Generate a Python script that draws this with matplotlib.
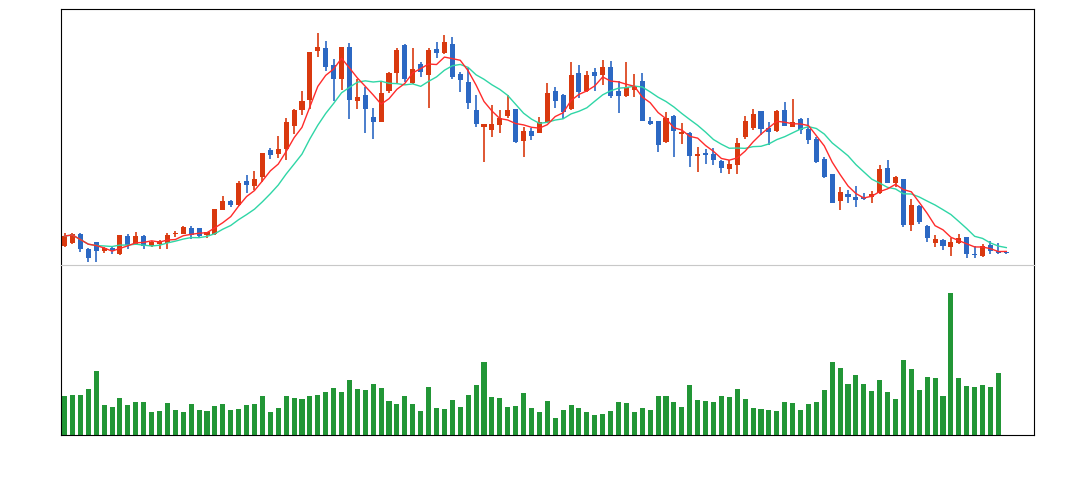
import matplotlib.pyplot as plt
import numpy as np
import pandas as pd

# daily candles
opens = [5.40, 5.73, 6.60, 5.07, 5.80, 4.90, 5.20, 4.60, 6.40, 5.60,
         6.40, 5.40, 5.60, 5.70, 6.57, 6.60, 7.20, 7.20, 6.50, 6.60,
         9.03, 9.90, 9.53, 11.93, 11.43, 12.27, 15.00, 14.63, 15.13, 17.43,
         19.03, 20.03, 24.93, 25.20, 23.50, 22.13, 25.30, 19.93, 20.50, 18.30,
         17.83, 20.90, 22.73, 25.53, 21.73, 23.60, 22.50, 25.10, 24.73, 25.60,
         22.60, 21.80, 19.00, 17.33, 17.00, 17.50, 18.40, 19.10, 15.93, 16.90,
         16.73, 17.83, 20.90, 20.50, 19.10, 22.70, 20.93, 22.80, 22.50, 23.30,
         20.90, 20.43, 21.00, 21.90, 17.90, 17.90, 15.77, 18.40, 16.63, 16.70,
         14.43, 14.70, 14.60, 13.90, 13.13, 13.53, 16.30, 17.23, 18.90, 17.20,
         16.93, 19.00, 17.33, 18.10, 17.10, 16.10, 14.10, 12.60, 9.93, 10.63,
         10.30, 10.30, 10.30, 10.73, 13.17, 11.73, 12.10, 7.50, 9.40, 7.40,
         5.73, 6.00, 5.33, 5.70, 6.30, 4.63, 4.43, 5.50, 4.90, 4.80]
closes = [6.40, 6.60, 5.13, 4.20, 4.90, 5.20, 5.00, 6.50, 5.50, 6.40,
          5.40, 5.80, 5.87, 6.50, 6.67, 7.30, 6.50, 6.40, 6.80, 9.10,
          9.87, 9.53, 11.70, 11.53, 12.10, 14.70, 14.53, 15.10, 17.80, 19.00,
          19.90, 24.80, 25.30, 23.33, 22.13, 25.30, 19.97, 20.30, 19.13, 17.83,
          20.70, 22.70, 25.00, 22.07, 23.10, 22.83, 25.00, 24.73, 25.80, 22.33,
          22.00, 19.73, 17.60, 17.60, 17.60, 18.20, 19.00, 15.83, 16.93, 16.40,
          17.77, 20.73, 19.90, 18.83, 22.50, 20.83, 22.50, 22.40, 23.30, 20.43,
          20.43, 21.30, 21.40, 17.93, 17.60, 15.50, 18.20, 16.90, 16.80, 14.43,
          14.60, 14.50, 14.00, 13.23, 13.60, 15.70, 17.90, 18.60, 17.13, 16.83,
          18.90, 17.43, 17.83, 17.03, 16.03, 13.83, 12.33, 9.73, 10.80, 10.33,
          10.03, 10.13, 10.60, 13.10, 11.73, 12.27, 7.50, 9.50, 7.83, 6.23,
          6.10, 5.43, 5.77, 6.17, 4.63, 4.53, 5.40, 4.93, 4.73, 4.70]
highs = [6.67, 6.73, 6.73, 5.20, 5.80, 5.33, 5.43, 6.50, 6.60, 6.80,
         6.50, 5.90, 6.00, 6.67, 6.90, 7.40, 7.40, 7.25, 6.80, 9.10,
         10.37, 10.03, 11.87, 12.53, 12.87, 14.70, 15.20, 16.37, 18.20, 19.10,
         20.87, 24.80, 26.70, 25.87, 24.07, 25.30, 25.70, 22.10, 21.33, 19.20,
         21.87, 22.83, 25.17, 25.60, 25.17, 23.83, 25.17, 25.80, 26.50, 26.30,
         22.83, 23.17, 20.50, 17.60, 19.50, 19.00, 20.50, 19.10, 17.27, 17.23,
         18.33, 21.67, 21.33, 20.57, 23.77, 23.50, 22.90, 23.17, 24.00, 23.90,
         21.90, 23.77, 22.57, 22.67, 18.33, 17.90, 18.80, 18.50, 17.73, 16.77,
         15.33, 15.10, 15.17, 14.00, 14.00, 16.23, 18.40, 19.10, 18.90, 17.80,
         19.00, 19.80, 20.10, 18.20, 18.20, 16.33, 14.30, 12.60, 11.30, 11.00,
         11.40, 10.70, 10.90, 13.50, 13.97, 12.43, 12.10, 10.10, 9.50, 7.50,
         6.50, 6.10, 6.17, 6.57, 6.30, 5.40, 5.63, 5.90, 5.70, 4.87]
lows = [5.27, 5.60, 4.83, 3.83, 3.77, 4.70, 4.63, 4.50, 5.07, 5.50,
        5.07, 5.30, 5.10, 5.10, 6.30, 6.60, 6.10, 6.35, 6.20, 6.50,
        9.03, 9.27, 9.43, 10.70, 10.97, 11.80, 14.10, 14.20, 13.97, 16.60,
        18.47, 19.13, 24.27, 22.87, 19.87, 20.97, 18.10, 19.10, 16.67, 16.10,
        17.80, 20.67, 21.67, 21.83, 21.60, 22.33, 19.17, 24.17, 24.60, 22.10,
        20.83, 19.07, 17.33, 13.83, 16.33, 16.67, 18.17, 15.67, 14.33, 16.00,
        16.67, 17.73, 19.17, 18.07, 19.00, 20.17, 20.83, 20.90, 21.50, 20.17,
        18.67, 20.33, 20.33, 17.90, 17.50, 14.77, 15.67, 14.27, 15.57, 13.27,
        12.77, 13.60, 13.50, 12.67, 12.57, 12.57, 16.10, 17.00, 16.50, 15.50,
        16.83, 17.40, 17.30, 16.63, 15.60, 13.73, 12.23, 9.70, 9.03, 9.73,
        9.33, 10.00, 9.73, 10.63, 11.70, 11.30, 7.27, 6.87, 7.60, 5.77,
        5.33, 5.00, 4.43, 5.57, 4.17, 4.17, 4.30, 4.57, 4.63, 4.57]
# volume (last candle has no volume bar)
volumes = [39, 40, 40, 46, 64, 30, 28, 37, 30, 33,
           33, 23, 24, 32, 25, 23, 31, 25, 24, 29,
           31, 25, 26, 30, 31, 39, 23, 27, 39, 37,
           36, 39, 40, 43, 47, 43, 55, 46, 45, 51,
           47, 34, 31, 39, 31, 24, 48, 27, 26, 35,
           28, 40, 50, 73, 38, 37, 28, 29, 42, 27,
           23, 34, 17, 25, 30, 27, 23, 20, 21, 24,
           33, 32, 23, 27, 25, 39, 39, 33, 28, 50,
           35, 34, 33, 39, 38, 46, 36, 27, 26, 25,
           24, 33, 32, 25, 31, 33, 45, 73, 67, 51,
           60, 51, 44, 55, 43, 36, 75, 66, 45, 58,
           57, 39, 142, 57, 49, 48, 50, 48, 62]

up_color = '#d9390f'
down_color = '#2c68c3'

o = np.array(opens)
c = np.array(closes)
h = np.array(highs)
l = np.array(lows)
x = np.arange(len(o))

ma5 = pd.Series(c).rolling(5, min_periods=1).mean()
ma10 = pd.Series(c).rolling(10, min_periods=1).mean()

fig = plt.figure(figsize=(10.83, 4.8), dpi=100)
ax2 = fig.add_axes([61 / 1083, 45 / 480, 973 / 1083, 170 / 480])
ax1 = fig.add_axes([61 / 1083, 215 / 480, 973 / 1083, 256 / 480])
ax1.patch.set_visible(False)

colors = [up_color if cc >= oo else down_color for oo, cc in zip(o, c)]
ax1.vlines(x, l, h, colors=colors, linewidth=1.2)
bottom = np.minimum(o, c)
height = np.maximum(np.abs(c - o), 0.12)
ax1.bar(x, height, bottom=bottom, width=0.64, color=colors, linewidth=0)

ax1.plot(x, ma10, color='#2fd6a6', linewidth=1.0)
ax1.plot(x, ma5, color='#ff2b2b', linewidth=1.0)

ax1.set_xlim(-0.45, 122.5)
ax1.set_ylim(3.5, 29.1)
ax1.set_xticks([])
ax1.set_yticks([])
for s in ['left', 'right', 'top']:
    ax1.spines[s].set_color('black')
ax1.spines['bottom'].set_color('#c8c8c8')

ax2.bar(np.arange(len(volumes)), volumes, width=0.64, color='#229636', linewidth=0)
ax2.set_xlim(-0.45, 122.5)
ax2.set_ylim(0, 170)
ax2.set_xticks([])
ax2.set_yticks([])
ax2.spines['top'].set_visible(False)

fig.savefig('out.png', dpi=100)
